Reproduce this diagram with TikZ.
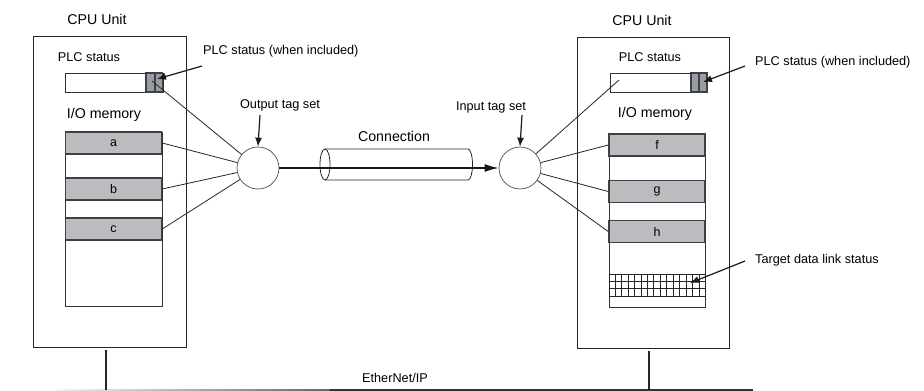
\documentclass[tikz,border=0pt]{standalone}
\usepackage{fontspec}
\setmainfont{Liberation Sans}
\usetikzlibrary{arrows.meta,calc}
\definecolor{cellgray}{RGB}{186,188,192}
\definecolor{seggray}{RGB}{150,157,167}
\begin{document}
\begin{tikzpicture}[x=1pt,y=-1pt,
  lbl/.style={font=\fontsize{12.7}{14}\selectfont, inner sep=0pt},
  biglbl/.style={font=\fontsize{14.2}{16}\selectfont, inner sep=0pt},
  unitbox/.style={draw=black!85, line width=1pt, fill=white, inner sep=0pt},
  membox/.style={draw=black!80, line width=0.9pt, fill=white, inner sep=0pt},
  cell/.style={draw=black!75, line width=1.5pt, fill=cellgray, inner sep=0pt,
    minimum width=96pt, minimum height=22pt, font=\fontsize{12.5}{14}\selectfont},
  stseg/.style={draw=black!75, line width=1.2pt, fill=seggray, inner sep=0pt,
    minimum height=19pt},
  tagset/.style={circle, draw=black!70, line width=0.7pt, fill=white, minimum size=42pt, inner sep=0pt},
  thin/.style={draw=black!85, line width=0.8pt},
  ptarrow/.style={draw=black!90, line width=1.2pt, -{Latex[length=9pt,width=7pt]}},
  connarrow/.style={draw=black!90, line width=1.3pt, -{Latex[length=14pt,width=8pt]}},
  drop/.style={draw=black!85, line width=1.6pt}
]
\useasboundingbox (0,0) rectangle (924,391);

% ---------- left CPU unit ----------
\node[biglbl] (cpuLlbl) at (97,19) {CPU Unit};
\node[unitbox, minimum width=153pt, minimum height=311pt] (cpuL) at (109.5,191.5) {};
\node[lbl] (plcLlbl) at (89,57) {PLC status};
\node[membox, minimum width=98pt, minimum height=19pt] (plcL) at (114,82.5) {};
\node[stseg, minimum width=9pt] (plcLs1) at (150.5,82.5) {};
\node[stseg, minimum width=7.5pt] (plcLs2) at (158.75,82.5) {};
\node[biglbl] (ioLlbl) at (104,115) {I/O memory};
\node[membox, minimum width=97pt, minimum height=174pt] (ioL) at (113.5,219) {};
\node[cell] (a) at (113.5,143) {a};
\node[cell] (b) at (113.5,189) {b};
\node[cell] (c) at (113.5,229) {c};

% ---------- right CPU unit ----------
\node[biglbl] (cpuRlbl) at (642,20) {CPU Unit};
\node[unitbox, minimum width=152pt, minimum height=311pt] (cpuR) at (653,192.5) {};
\node[lbl] (plcRlbl) at (650,57) {PLC status};
\node[membox, minimum width=97pt, minimum height=19pt] (plcR) at (658.5,82.5) {};
\node[stseg, minimum width=8pt] (plcRs1) at (695,82.5) {};
\node[stseg, minimum width=8pt] (plcRs2) at (703,82.5) {};
\node[biglbl] (ioRlbl) at (655,114) {I/O memory};
\node[membox, minimum width=96pt, minimum height=173pt] (ioR) at (657,220.5) {};
\node[cell] (f) at (657,145) {f};
\node[cell] (g) at (657,191.5) {g};
\node[cell] (h) at (657,231.5) {h};
% target data link status grid
\node[draw=black!85, line width=0.7pt, minimum width=96pt, minimum height=22pt, inner sep=0pt] (grid) at (657,285) {};
\foreach \i in {1,...,14} {
  \draw[black!85, line width=0.6pt] ($(grid.north west)!{\i/15}!(grid.north east)$) -- ($(grid.south west)!{\i/15}!(grid.south east)$);
}
\foreach \j in {1,2} {
  \draw[black!85, line width=0.6pt] ($(grid.north west)!{\j/3}!(grid.south west)$) -- ($(grid.north east)!{\j/3}!(grid.south east)$);
}

% ---------- tag sets ----------
\node[tagset] (ots) at (258,168) {};
\node[tagset] (its) at (520,168) {};
\node[lbl] (otslbl) at (280,105) {Output tag set};
\node[lbl] (itslbl) at (491,107) {Input tag set};
\coordinate (otsTop) at (260,115);
\coordinate (itsTop) at (522,115);
\draw[ptarrow] (otsTop) -- (ots.north);
\draw[ptarrow] (itsTop) -- (its.north);

% connectors to memory
\coordinate (plcLpt) at (152,81);
\coordinate (plcRpt) at (619,80);
\draw[thin] (plcLpt) -- (ots);
\draw[thin] (a.east) -- (ots);
\draw[thin] (b.east) -- (ots);
\draw[thin] (c.east) -- (ots);
\draw[thin] (plcRpt) -- (its);
\draw[thin] (f.west) -- (its);
\draw[thin] (g.west) -- (its);
\draw[thin] (h.west) -- (its);

% ---------- connection cylinder ----------
\node[biglbl] (connlbl) at (394,136) {Connection};
\draw[black!85, line width=0.8pt] (325,164.5) ellipse [x radius=5pt, y radius=15.5pt];
\draw[black!85, line width=0.8pt] (325,149) -- (468,149) arc[start angle=90, end angle=-90, x radius=4.5pt, y radius=15.5pt] -- (325,180);
\draw[connarrow] (ots) -- (its);

% ---------- callouts ----------
\node[lbl, anchor=west] (stLlbl) at (203,51) {PLC status (when included)};
\coordinate (stLfrom) at (202,66);
\coordinate (stLto) at (157,79);
\draw[ptarrow] (stLfrom) -- (stLto);
\node[lbl, anchor=west] (stRlbl) at (755,62) {PLC status (when included)};
\coordinate (stRfrom) at (745,66);
\coordinate (stRto) at (703,82);
\draw[ptarrow] (stRfrom) -- (stRto);
\node[lbl, anchor=west] (tdllbl) at (755,260) {Target data link status};
\coordinate (tdlfrom) at (745,261);
\coordinate (tdlto) at (690,283);
\draw[ptarrow] (tdlfrom) -- (tdlto);

% ---------- EtherNet/IP bus ----------
\node[lbl] (ethlbl) at (395,378) {EtherNet/IP};
\shade[left color=black!4, right color=black!60] (55,389.2) rectangle (330,390.6);
\fill[black!80] (330,389.2) rectangle (753,390.6);
\coordinate (dropLtop) at (106,350);
\coordinate (busL) at (106,390);
\coordinate (dropRtop) at (649,351);
\coordinate (busR) at (649,390);
\draw[drop] (dropLtop) -- (busL);
\draw[drop] (dropRtop) -- (busR);
\end{tikzpicture}
\end{document}
